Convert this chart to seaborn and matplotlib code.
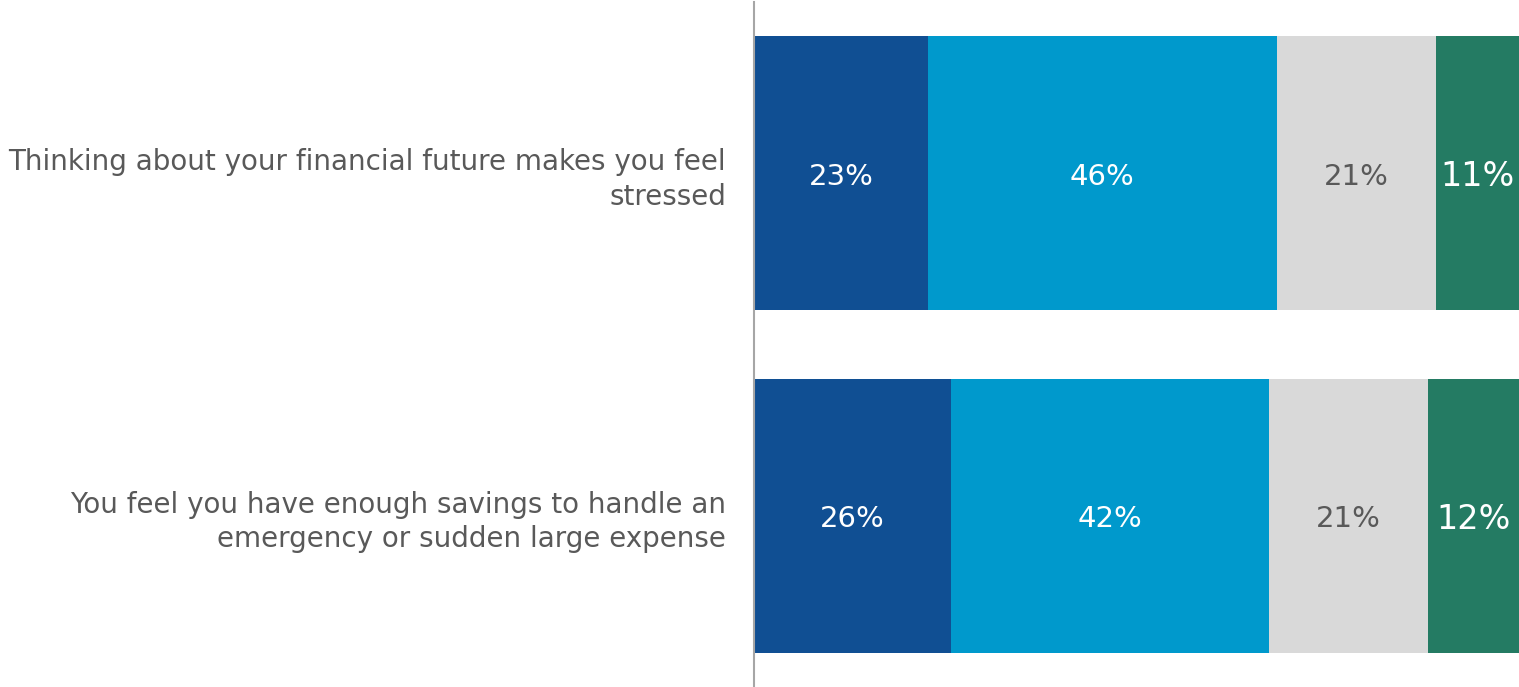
import matplotlib
matplotlib.use("Agg")
import matplotlib.pyplot as plt
import seaborn as sns
import numpy as np
import pandas as pd

# Survey statements and response shares (%)
statements = [
    "Thinking about your financial future makes you feel\nstressed",
    "You feel you have enough savings to handle an\nemergency or sudden large expense",
]
segment_names = ["Strongly agree", "Somewhat agree", "Somewhat disagree", "Strongly disagree"]
strongly_agree = [23, 26]
somewhat_agree = [46, 42]
somewhat_disagree = [21, 21]
strongly_disagree = [11, 12]

colors = ["#104F93", "#0099CC", "#D9D9D9", "#247B63"]
label_colors = ["white", "white", "#595959", "white"]
label_sizes = [21, 21, 21, 24]

segments = [strongly_agree, somewhat_agree, somewhat_disagree, strongly_disagree]
values = np.array(segments, dtype=float)
cum = np.cumsum(values, axis=0)
left = cum - values

sns.set_theme(style="white")
plt.rcParams["font.family"] = ["DejaVu Sans"]

fig = plt.figure(figsize=(15.19, 6.87), dpi=100)
ax = fig.add_axes([754 / 1519, 0.0, 765 / 1519, 0.997])

# Stacked bars: draw cumulative totals from the outermost segment inward
for i in range(len(segments) - 1, -1, -1):
    df = pd.DataFrame({"statement": statements, "total": cum[i]})
    sns.barplot(data=df, x="total", y="statement", orient="h", color=colors[i],
                saturation=1, width=0.8, ax=ax, linewidth=0)

for i, seg in enumerate(segments):
    for j, v in enumerate(seg):
        ax.text(left[i][j] + v / 2, j + 0.01, f"{v}%", ha="center", va="center",
                color=label_colors[i], fontsize=label_sizes[i])

ax.set_xlim(0, cum[-1].max())
ax.set_ylim(1.5, -0.5)
ax.set_xlabel("")
ax.set_ylabel("")
ax.set_xticks([])
ax.tick_params(axis="y", length=0, pad=20, labelsize=20, labelcolor="#595959")
for lbl in ax.get_yticklabels():
    lbl.set_horizontalalignment("right")
    lbl.set_multialignment("right")
    lbl.set_linespacing(1.3)
for s in ["top", "right", "bottom"]:
    ax.spines[s].set_visible(False)
ax.spines["left"].set_color("#A6A6A6")
ax.spines["left"].set_linewidth(1.5)

fig.savefig("out.png", dpi=100, facecolor="white")
